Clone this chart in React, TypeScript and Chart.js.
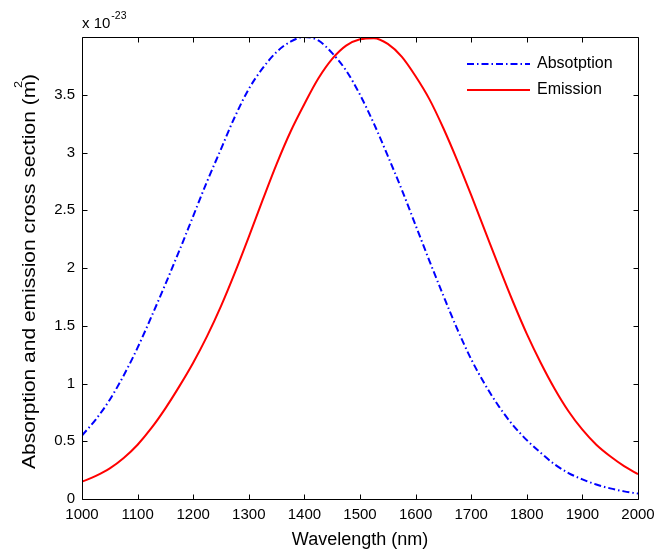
import React, { useEffect, useRef } from "react";
import { Chart, registerables } from "chart.js";

Chart.register(...registerables);

const wavelengths = [
  1000, 1025, 1050, 1075, 1100, 1125, 1150, 1175, 1200, 1225, 1250, 1275, 1300, 1325,
  1350, 1375, 1400, 1425, 1450, 1475, 1500, 1525, 1550, 1575, 1600, 1625, 1650, 1675,
  1700, 1725, 1750, 1775, 1800, 1825, 1850, 1875, 1900, 1925, 1950, 1975, 2000,
];

const absorption = [
  0.55, 0.69, 0.86, 1.07, 1.31, 1.58, 1.86, 2.15, 2.45, 2.75, 3.03, 3.31, 3.55, 3.73,
  3.87, 3.96, 4.0, 3.97, 3.86, 3.71, 3.5, 3.25, 2.97, 2.68, 2.37, 2.06, 1.76, 1.47,
  1.21, 0.99, 0.8, 0.64, 0.51, 0.4, 0.3, 0.225, 0.17, 0.125, 0.092, 0.066, 0.047,
];

const emission = [
  0.15, 0.2, 0.265, 0.355, 0.47, 0.615, 0.785, 0.975, 1.18, 1.41, 1.67, 1.96, 2.27, 2.59,
  2.9, 3.18, 3.42, 3.64, 3.81, 3.925, 3.98, 3.99, 3.94, 3.83, 3.66, 3.46, 3.21, 2.93,
  2.63, 2.32, 2.01, 1.71, 1.43, 1.18, 0.955, 0.76, 0.6, 0.47, 0.37, 0.285, 0.215,
];

const xTicks = [1000, 1100, 1200, 1300, 1400, 1500, 1600, 1700, 1800, 1900, 2000];
const yTicks = [0, 0.5, 1, 1.5, 2, 2.5, 3, 3.5];
const seriesNames = ["Absotption", "Emission"];
const xTitle = "Wavelength (nm)";
const yTitleMain = "Absorption and emission cross section (m";
const yTitleSup = "2";
const yTitleEnd = ")";
const exponentBase = "x 10";
const exponentPower = "-23";

const FONT = "'Liberation Sans', Arial, Helvetica, sans-serif";
const BLUE = "#0000ff";
const RED = "#ff0000";
const DASHDOT = [7, 3, 1.5, 3];

const decorPlugin = {
  id: "decor",
  afterDatasetsDraw(chart: any) {
    const { ctx, chartArea: a, scales } = chart;
    const xs = scales.x;
    const ys = scales.y;
    const L = Math.round(a.left) + 0.5;
    const R = Math.round(a.right) + 0.5;
    const T = Math.round(a.top) + 0.5;
    const B = Math.round(a.bottom) + 0.5;
    ctx.save();
    ctx.strokeStyle = "#000";
    ctx.lineWidth = 1;
    ctx.setLineDash([]);
    ctx.beginPath();
    ctx.rect(L, T, R - L, B - T);
    const tl = 5;
    xTicks.forEach((v) => {
      const p = Math.round(xs.getPixelForValue(v)) + 0.5;
      ctx.moveTo(p, B);
      ctx.lineTo(p, B - tl);
      ctx.moveTo(p, T);
      ctx.lineTo(p, T + tl);
    });
    yTicks.forEach((v) => {
      const p = Math.round(ys.getPixelForValue(v)) + 0.5;
      ctx.moveTo(L, p);
      ctx.lineTo(L + tl, p);
      ctx.moveTo(R, p);
      ctx.lineTo(R - tl, p);
    });
    ctx.stroke();

    // exponent label
    ctx.fillStyle = "#000";
    ctx.textBaseline = "alphabetic";
    ctx.textAlign = "left";
    ctx.font = `15px ${FONT}`;
    ctx.fillText(exponentBase, a.left, 28);
    const bw = ctx.measureText(exponentBase).width;
    ctx.font = `10.5px ${FONT}`;
    ctx.fillText(exponentPower, a.left + bw + 1, 19);

    // y title (rotated)
    ctx.save();
    ctx.translate(35, 469);
    ctx.rotate(-Math.PI / 2);
    ctx.scale(1.165, 1);
    ctx.font = `18px ${FONT}`;
    ctx.fillText(yTitleMain + yTitleEnd, 0, 0);
    const mw = ctx.measureText(yTitleMain).width;
    ctx.font = `11px ${FONT}`;
    ctx.fillText(yTitleSup, mw - 6, -13);
    ctx.restore();

    // legend
    const colors = [BLUE, RED];
    const dashes = [DASHDOT, []];
    const rows = [64, 90];
    seriesNames.forEach((name, i) => {
      ctx.beginPath();
      ctx.strokeStyle = colors[i];
      ctx.lineWidth = 2;
      ctx.setLineDash(dashes[i]);
      ctx.moveTo(467, rows[i]);
      ctx.lineTo(530, rows[i]);
      ctx.stroke();
      ctx.setLineDash([]);
      ctx.fillStyle = "#000";
      ctx.font = `16px ${FONT}`;
      ctx.textBaseline = "middle";
      ctx.fillText(name, 537, rows[i]);
    });
    ctx.restore();
  },
};

export default function App() {
  const ref = useRef<HTMLCanvasElement | null>(null);
  useEffect(() => {
    if (!ref.current) return;
    const chart = new Chart(ref.current, {
      type: "line",
      data: {
        labels: wavelengths,
        datasets: [
          {
            label: seriesNames[0],
            data: wavelengths.map((w, i) => ({ x: w, y: absorption[i] })),
            borderColor: BLUE,
            borderWidth: 2,
            borderDash: DASHDOT,
            pointRadius: 0,
            cubicInterpolationMode: "monotone",
            fill: false,
            order: 1,
          },
          {
            label: seriesNames[1],
            data: wavelengths.map((w, i) => ({ x: w, y: emission[i] })),
            borderColor: RED,
            borderWidth: 2,
            pointRadius: 0,
            cubicInterpolationMode: "monotone",
            fill: false,
            order: 0,
          },
        ],
      },
      options: {
        animation: false,
        responsive: true,
        maintainAspectRatio: false,
        layout: { padding: { left: 0, top: 37, right: 32, bottom: 0 } },
        plugins: { legend: { display: false }, tooltip: { enabled: false } },
        scales: {
          x: {
            type: "linear",
            min: 1000,
            max: 2000,
            grid: { display: false, drawTicks: false },
            border: { display: false },
            afterBuildTicks: (s: any) => {
              s.ticks = xTicks.map((v) => ({ value: v }));
            },
            afterFit: (s: any) => {
              s.height = 52;
            },
            ticks: {
              color: "#000",
              font: { family: FONT, size: 15 },
              padding: 7,
              maxRotation: 0,
              autoSkip: false,
              callback: (v: any) => String(v),
            },
            title: {
              display: true,
              text: xTitle,
              color: "#000",
              font: { family: FONT, size: 18 },
              padding: { top: 0, bottom: 0 },
            },
          },
          y: {
            type: "linear",
            min: 0,
            max: 4,
            grid: { display: false, drawTicks: false },
            border: { display: false },
            afterBuildTicks: (s: any) => {
              s.ticks = yTicks.map((v) => ({ value: v }));
            },
            afterFit: (s: any) => {
              s.width = 82;
            },
            ticks: {
              color: "#000",
              font: { family: FONT, size: 15 },
              padding: 7,
              callback: (v: any) => String(v),
            },
          },
        },
      },
      plugins: [decorPlugin],
    });
    return () => chart.destroy();
  }, []);
  return (
    <div style={{ position: "absolute", left: 0, top: 0, width: 670, height: 551, background: "#fff" }}>
      <canvas ref={ref} />
    </div>
  );
}
